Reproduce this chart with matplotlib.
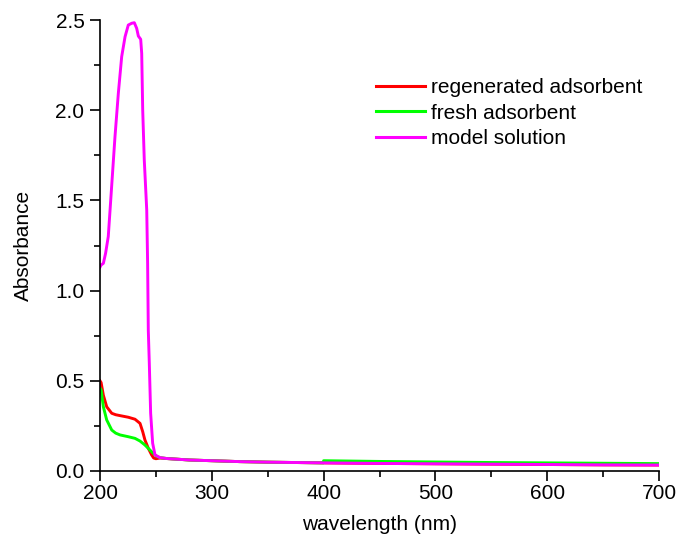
import matplotlib
matplotlib.use("Agg")
import matplotlib.pyplot as plt
from matplotlib.ticker import MultipleLocator, FormatStrFormatter

plt.rcParams['font.family'] = ['Liberation Sans', 'DejaVu Sans']

# model solution (magenta)
wl_model = [200, 201, 203, 205, 207.4, 210.4, 213.4, 216.4, 219.4, 222.4, 225.3,
            228.4, 230.7, 232.8, 234.3, 236.4, 237.3, 238.2, 239.6, 241.8, 242.6,
            243.2, 244.1, 245.3, 247.1, 249.2, 253.7, 260, 280, 300, 325, 350,
            400, 450, 500, 550, 600, 650, 700]
a_model = [1.13, 1.142, 1.151, 1.207, 1.30, 1.576, 1.853, 2.094, 2.297, 2.407, 2.472,
           2.482, 2.485, 2.454, 2.411, 2.393, 2.315, 2.001, 1.724, 1.447, 1.15,
           0.78, 0.597, 0.32, 0.154, 0.089, 0.074, 0.069, 0.061, 0.057, 0.052, 0.049,
           0.045, 0.042, 0.040, 0.038, 0.036, 0.034, 0.033]

# regenerated adsorbent (red)
wl_regen = [200, 201, 203, 206, 210.5, 214, 217.9, 225.3, 231.3, 235.8, 238.2,
            240.2, 243.2, 246.2, 248, 250, 253.7, 260, 280, 300, 325, 350,
            400, 450, 500, 550, 600, 650, 700]
a_regen = [0.50, 0.49, 0.42, 0.356, 0.32, 0.312, 0.307, 0.298, 0.287, 0.264, 0.218,
           0.172, 0.126, 0.089, 0.072, 0.068, 0.072, 0.069, 0.061, 0.057, 0.052, 0.049,
           0.045, 0.042, 0.040, 0.038, 0.036, 0.034, 0.033]

# fresh adsorbent (green)
wl_fresh = [200, 201, 203, 206, 210.5, 214, 217.9, 225.3, 231.3, 235.8, 240.2,
            244.7, 248.3, 251, 253.7, 260, 280, 300, 325, 350, 399.9,
            400, 450, 500, 550, 600, 650, 700]
a_fresh = [0.46, 0.449, 0.356, 0.283, 0.227, 0.21, 0.2, 0.19, 0.181, 0.166, 0.144,
           0.116, 0.094, 0.08, 0.074, 0.069, 0.061, 0.057, 0.052, 0.049, 0.045,
           0.057, 0.053, 0.050, 0.047, 0.045, 0.043, 0.041]

labels = ['regenerated adsorbent', 'fresh adsorbent', 'model solution']
colors = ['#FF0000', '#00FF00', '#FF00FF']

fs = 15

fig = plt.figure(figsize=(6.78, 5.44), dpi=100)
ax = fig.add_axes([100/678, 1-471/544, 559/678, 451/544])

lw = 2.1
ax.plot(wl_regen, a_regen, color=colors[0], lw=lw, label=labels[0])
ax.plot(wl_fresh, a_fresh, color=colors[1], lw=lw, label=labels[1])
ax.plot(wl_model, a_model, color=colors[2], lw=lw, label=labels[2])

ax.set_xlim(200, 700)
ax.set_ylim(0, 2.5)
ax.xaxis.set_major_locator(MultipleLocator(100))
ax.xaxis.set_minor_locator(MultipleLocator(50))
ax.yaxis.set_major_locator(MultipleLocator(0.5))
ax.yaxis.set_minor_locator(MultipleLocator(0.25))
ax.yaxis.set_major_formatter(FormatStrFormatter('%.1f'))

for s in ['top', 'right']:
    ax.spines[s].set_visible(False)
for s in ['left', 'bottom']:
    ax.spines[s].set_linewidth(1.2)
ax.tick_params(which='major', direction='out', length=7.2, width=1.2, labelsize=fs)
ax.tick_params(axis='x', which='major', pad=2.5)
ax.tick_params(axis='y', which='major', pad=4)
ax.tick_params(which='minor', direction='out', length=4, width=1.2)

ax.set_xlabel('wavelength (nm)', fontsize=fs, labelpad=8)
ax.set_ylabel('Absorbance', fontsize=fs, labelpad=16)

leg = ax.legend(loc='upper left', bbox_to_anchor=((376-100)/559, (471-78)/451),
                frameon=False, fontsize=fs, handlelength=2.36, handletextpad=0.3,
                labelspacing=0.32, borderpad=0, borderaxespad=0)
for line in leg.get_lines():
    line.set_linewidth(2.2)

fig.savefig('out.png', dpi=100)
